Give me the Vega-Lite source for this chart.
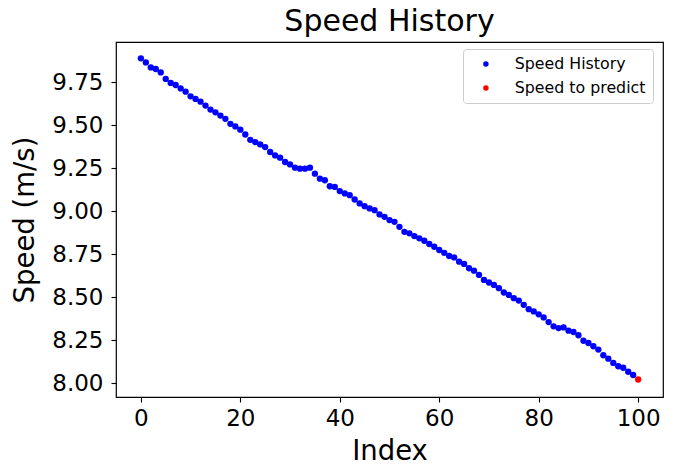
{
  "$schema": "https://vega.github.io/schema/vega-lite/v6.json",
  "width": 547,
  "height": 355,
  "autosize": {"type": "none"},
  "padding": {"left": 116, "top": 42, "right": 15, "bottom": 69},
  "title": {"text": "Speed History", "fontSize": 30, "font": "DejaVu Sans", "fontWeight": "normal", "color": "black", "offset": 5, "anchor": "middle"},
  "config": {
    "view": {"stroke": "black", "strokeWidth": 1.2},
    "axis": {
      "domain": false, "grid": false, "tickColor": "black", "tickSize": 5, "tickWidth": 1.1,
      "labelFont": "DejaVu Sans", "labelFontSize": 23, "labelColor": "black",
      "titleFont": "DejaVu Sans", "titleFontSize": 27.5, "titleFontWeight": "normal", "titleColor": "black"
    }
  },
  "data": {"values": [
    {"i":0,"v":9.890,"s":"Speed History"},{"i":1,"v":9.866,"s":"Speed History"},{"i":2,"v":9.837,"s":"Speed History"},{"i":3,"v":9.828,"s":"Speed History"},{"i":4,"v":9.808,"s":"Speed History"},
    {"i":5,"v":9.770,"s":"Speed History"},{"i":6,"v":9.747,"s":"Speed History"},{"i":7,"v":9.735,"s":"Speed History"},{"i":8,"v":9.715,"s":"Speed History"},{"i":9,"v":9.696,"s":"Speed History"},
    {"i":10,"v":9.669,"s":"Speed History"},{"i":11,"v":9.654,"s":"Speed History"},{"i":12,"v":9.638,"s":"Speed History"},{"i":13,"v":9.615,"s":"Speed History"},{"i":14,"v":9.592,"s":"Speed History"},
    {"i":15,"v":9.576,"s":"Speed History"},{"i":16,"v":9.557,"s":"Speed History"},{"i":17,"v":9.538,"s":"Speed History"},{"i":18,"v":9.509,"s":"Speed History"},{"i":19,"v":9.494,"s":"Speed History"},
    {"i":20,"v":9.475,"s":"Speed History"},{"i":21,"v":9.447,"s":"Speed History"},{"i":22,"v":9.416,"s":"Speed History"},{"i":23,"v":9.403,"s":"Speed History"},{"i":24,"v":9.389,"s":"Speed History"},
    {"i":25,"v":9.374,"s":"Speed History"},{"i":26,"v":9.345,"s":"Speed History"},{"i":27,"v":9.325,"s":"Speed History"},{"i":28,"v":9.312,"s":"Speed History"},{"i":29,"v":9.287,"s":"Speed History"},
    {"i":30,"v":9.273,"s":"Speed History"},{"i":31,"v":9.254,"s":"Speed History"},{"i":32,"v":9.248,"s":"Speed History"},{"i":33,"v":9.248,"s":"Speed History"},{"i":34,"v":9.254,"s":"Speed History"},
    {"i":35,"v":9.219,"s":"Speed History"},{"i":36,"v":9.190,"s":"Speed History"},{"i":37,"v":9.181,"s":"Speed History"},{"i":38,"v":9.146,"s":"Speed History"},{"i":39,"v":9.142,"s":"Speed History"},
    {"i":40,"v":9.118,"s":"Speed History"},{"i":41,"v":9.104,"s":"Speed History"},{"i":42,"v":9.094,"s":"Speed History"},{"i":43,"v":9.069,"s":"Speed History"},{"i":44,"v":9.046,"s":"Speed History"},
    {"i":45,"v":9.030,"s":"Speed History"},{"i":46,"v":9.017,"s":"Speed History"},{"i":47,"v":9.007,"s":"Speed History"},{"i":48,"v":8.982,"s":"Speed History"},{"i":49,"v":8.968,"s":"Speed History"},
    {"i":50,"v":8.949,"s":"Speed History"},{"i":51,"v":8.939,"s":"Speed History"},{"i":52,"v":8.910,"s":"Speed History"},{"i":53,"v":8.881,"s":"Speed History"},{"i":54,"v":8.872,"s":"Speed History"},
    {"i":55,"v":8.856,"s":"Speed History"},{"i":56,"v":8.843,"s":"Speed History"},{"i":57,"v":8.829,"s":"Speed History"},{"i":58,"v":8.810,"s":"Speed History"},{"i":59,"v":8.794,"s":"Speed History"},
    {"i":60,"v":8.775,"s":"Speed History"},{"i":61,"v":8.758,"s":"Speed History"},{"i":62,"v":8.740,"s":"Speed History"},{"i":63,"v":8.732,"s":"Speed History"},{"i":64,"v":8.707,"s":"Speed History"},
    {"i":65,"v":8.694,"s":"Speed History"},{"i":66,"v":8.669,"s":"Speed History"},{"i":67,"v":8.655,"s":"Speed History"},{"i":68,"v":8.630,"s":"Speed History"},{"i":69,"v":8.601,"s":"Speed History"},
    {"i":70,"v":8.586,"s":"Speed History"},{"i":71,"v":8.572,"s":"Speed History"},{"i":72,"v":8.553,"s":"Speed History"},{"i":73,"v":8.528,"s":"Speed History"},{"i":74,"v":8.514,"s":"Speed History"},
    {"i":75,"v":8.495,"s":"Speed History"},{"i":76,"v":8.481,"s":"Speed History"},{"i":77,"v":8.456,"s":"Speed History"},{"i":78,"v":8.431,"s":"Speed History"},{"i":79,"v":8.418,"s":"Speed History"},
    {"i":80,"v":8.401,"s":"Speed History"},{"i":81,"v":8.383,"s":"Speed History"},{"i":82,"v":8.356,"s":"Speed History"},{"i":83,"v":8.331,"s":"Speed History"},{"i":84,"v":8.321,"s":"Speed History"},
    {"i":85,"v":8.325,"s":"Speed History"},{"i":86,"v":8.306,"s":"Speed History"},{"i":87,"v":8.298,"s":"Speed History"},{"i":88,"v":8.279,"s":"Speed History"},{"i":89,"v":8.247,"s":"Speed History"},
    {"i":90,"v":8.234,"s":"Speed History"},{"i":91,"v":8.215,"s":"Speed History"},{"i":92,"v":8.196,"s":"Speed History"},{"i":93,"v":8.163,"s":"Speed History"},{"i":94,"v":8.143,"s":"Speed History"},
    {"i":95,"v":8.118,"s":"Speed History"},{"i":96,"v":8.099,"s":"Speed History"},{"i":97,"v":8.090,"s":"Speed History"},{"i":98,"v":8.067,"s":"Speed History"},{"i":99,"v":8.048,"s":"Speed History"},
    {"i":100,"v":8.022,"s":"Speed to predict"}
  ]},
  "mark": {"type": "circle", "size": 40, "opacity": 1},
  "encoding": {
    "x": {"field": "i", "type": "quantitative",
      "scale": {"domain": [-5, 105], "nice": false, "zero": false},
      "axis": {"values": [0, 20, 40, 60, 80, 100], "title": "Index", "labelPadding": 5, "titlePadding": 7}},
    "y": {"field": "v", "type": "quantitative",
      "scale": {"domain": [7.92, 9.985], "nice": false, "zero": false},
      "axis": {"values": [8, 8.25, 8.5, 8.75, 9, 9.25, 9.5, 9.75], "format": ".2f", "title": "Speed (m/s)", "labelPadding": 8, "titlePadding": 12}},
    "color": {"field": "s", "type": "nominal",
      "scale": {"domain": ["Speed History", "Speed to predict"], "range": ["#0000ff", "#ff0000"]},
      "legend": {"title": null, "orient": "none", "legendX": 347, "legendY": 7,
        "strokeColor": "#cccccc", "fillColor": "white", "cornerRadius": 3, "padding": 7,
        "labelFont": "DejaVu Sans", "labelFontSize": 15.8, "labelColor": "black",
        "symbolType": "circle", "symbolSize": 30, "symbolOffset": 8, "labelOffset": 21, "rowPadding": 7}}
  }
}
